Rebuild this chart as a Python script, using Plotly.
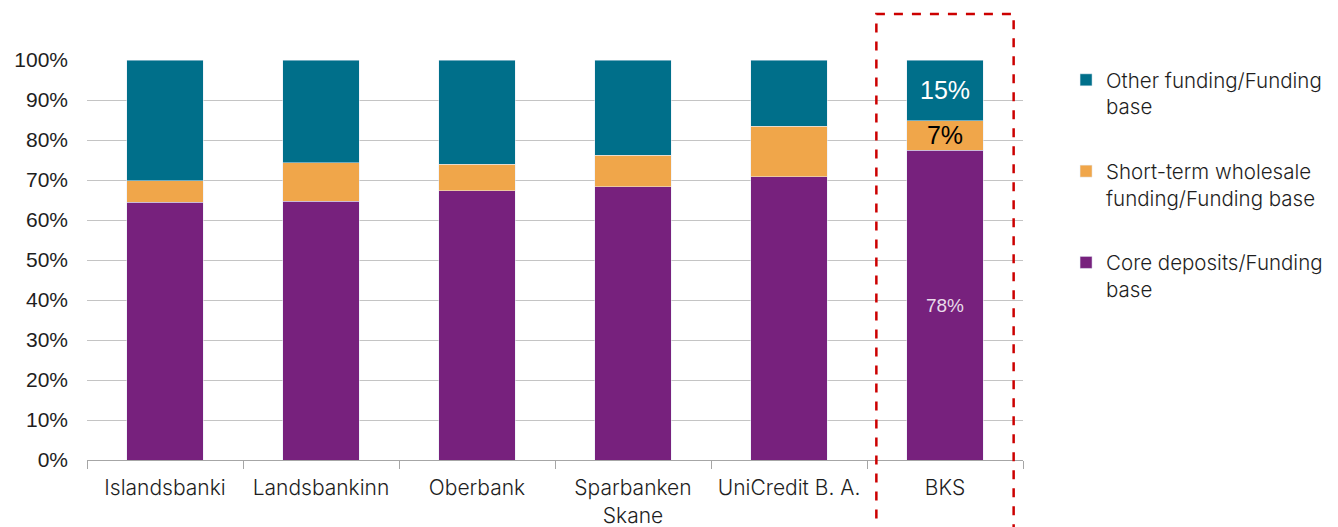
import plotly.graph_objects as go

categories = ["Islandsbanki", "Landsbankinn", "Oberbank", "Sparbanken<br>Skane", "UniCredit B. A.", "BKS"]
core_deposits = [64.4, 64.7, 67.3, 68.3, 70.8, 77.5]
short_term = [5.4, 9.6, 6.6, 7.9, 12.6, 7.3]
other_funding = [round(100 - c - s, 1) for c, s in zip(core_deposits, short_term)]
bks_labels = {"core": "78%", "short": "7%", "other": "15%"}
highlight = "BKS"

C_CORE = "#77217D"
C_SHORT = "#F0A64A"
C_OTHER = "#006F8A"
FONT = "Inter"
NUMFONT = "Liberation Sans, Arial"

def labels(key):
    return [bks_labels[key] if c == highlight else "" for c in categories]

fig = go.Figure()
fig.add_trace(go.Bar(
    x=categories, y=core_deposits, name="Core deposits/Funding<br>base",
    marker_color=C_CORE, legendgroup="a", legendrank=3,
    text=labels("core"), textposition="inside", insidetextanchor="middle", constraintext="none",
    textfont=dict(family=NUMFONT, size=19, color="rgba(255,255,255,0.85)"),
))
fig.add_trace(go.Bar(
    x=categories, y=short_term, name="Short-term wholesale<br>funding/Funding base",
    marker_color=C_SHORT, legendgroup="b", legendrank=2,
    text=labels("short"), textposition="inside", insidetextanchor="middle", constraintext="none",
    textfont=dict(family=NUMFONT, size=25, color="black"),
))
fig.add_trace(go.Bar(
    x=categories, y=other_funding, name="Other funding/Funding<br>base",
    marker_color=C_OTHER, legendgroup="c", legendrank=1,
    text=labels("other"), textposition="inside", insidetextanchor="middle", constraintext="none",
    textfont=dict(family=NUMFONT, size=25, color="white"),
))

n = len(categories)
hi = categories.index(highlight)
half = 0.44
fig.add_shape(
    type="rect", xref="paper", yref="paper",
    x0=(hi + 0.5 - half) / n, x1=(hi + 0.5 + half) / n,
    y0=-0.2, y1=1.115,
    line=dict(color="#CC0000", width=2.5, dash="dash"),
    fillcolor="rgba(0,0,0,0)",
)

fig.update_layout(
    barmode="stack",
    bargap=0.51,
    uniformtext=dict(mode=False),
    width=1338, height=527,
    margin=dict(l=87, r=315, t=60, b=67, autoexpand=False),
    paper_bgcolor="white", plot_bgcolor="white",
    font=dict(family=FONT, size=21, color="#1E1E1E"),
    showlegend=True,
    legend=dict(
        x=1.046, y=1.0, xanchor="left", yanchor="top",
        traceorder="grouped", tracegroupgap=35,
        valign="top", itemwidth=30,
        font=dict(family=FONT, size=20.5, color="#1E1E1E", weight=300),
    ),
    xaxis=dict(
        showgrid=False, showline=True, linecolor="#A6A6A6", linewidth=1,
        ticks="outside", tickson="boundaries", ticklen=8, tickcolor="#A6A6A6",
        tickfont=dict(family=FONT, size=21, color="#1E1E1E", weight=300),
        ticklabelstandoff=9,
        automargin=False,
    ),
    yaxis=dict(
        range=[0, 100], tickvals=list(range(0, 101, 10)),
        ticktext=[f"{v}%" for v in range(0, 101, 10)],
        showgrid=True, gridcolor="#C4C4C4", gridwidth=1,
        zeroline=False, showline=False, ticklabelstandoff=18,
        tickfont=dict(family=NUMFONT, size=21, color="#1E1E1E"),
        automargin=False,
    ),
)

fig.write_html("out.html", config={"displayModeBar": False},
               post_script="document.body.style.margin='0';")
